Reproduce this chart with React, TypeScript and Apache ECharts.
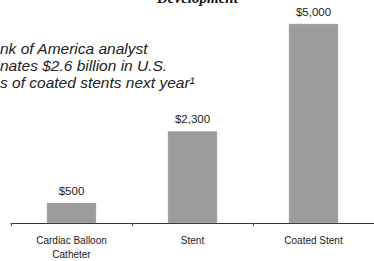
import React, { useEffect, useRef } from "react";
import * as echarts from "echarts";

const categories = ["Cardiac Balloon\nCatheter", "Stent", "Coated Stent"];
const values = [500, 2300, 5000];
const valueLabels = ["$500", "$2,300", "$5,000"];
const titleText = "Development";
const noteLines = [
  "nk of America analyst",
  "nates $2.6 billion in U.S.",
  "s of coated stents next year\u00b9",
];

export default function App() {
  const ref = useRef<HTMLDivElement>(null);
  useEffect(() => {
    if (!ref.current) return;
    const chart = echarts.init(ref.current, null, { renderer: "svg" });
    chart.setOption({
      animation: false,
      backgroundColor: "#ffffff",
      grid: { left: 11, top: 24, width: 366, height: 199, containLabel: false },
      xAxis: {
        type: "category",
        data: categories,
        axisLine: { show: true, lineStyle: { color: "#333", width: 1 } },
        axisTick: { show: true, length: 3, lineStyle: { color: "#555" } },
        axisLabel: {
          color: "#1a1a1a",
          fontFamily: "Arial, Liberation Sans, sans-serif",
          fontSize: 10,
          lineHeight: 14,
          margin: 10,
        },
      },
      yAxis: {
        type: "value",
        min: 0,
        max: 5000,
        show: false,
        splitLine: { show: false },
      },
      series: [
        {
          type: "bar",
          data: values,
          barWidth: 49,
          itemStyle: { color: "#9c9c9c", borderColor: "#858585", borderWidth: 0.5 },
          label: {
            show: true,
            position: "top",
            distance: 6,
            color: "#1a1a1a",
            fontFamily: "Arial, Liberation Sans, sans-serif",
            fontSize: 11.5,
            formatter: (p: any) => valueLabels[p.dataIndex],
          },
        },
      ],
      graphic: [
        {
          type: "text",
          left: 157,
          top: -10,
          style: {
            text: titleText,
            fontFamily: "Times New Roman, Liberation Serif, serif",
            fontWeight: "bold",
            fontStyle: "italic",
            fontSize: 15,
            fill: "#111",
          },
        },
        {
          type: "text",
          left: 0,
          top: 40,
          style: {
            text: noteLines.join("\n"),
            fontFamily: "Arial, Liberation Sans, sans-serif",
            fontStyle: "italic",
            fontSize: 15.5,
            lineHeight: 17,
            fill: "#222",
          },
        },
      ],
    });
    return () => chart.dispose();
  }, []);
  return <div ref={ref} style={{ width: 374, height: 261, position: "fixed", left: 0, top: 0 }} />;
}
